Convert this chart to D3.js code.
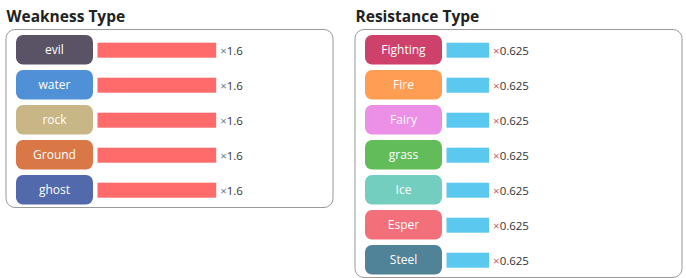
<!DOCTYPE html>
<html><head><meta charset="utf-8">
<script src="https://cdn.jsdelivr.net/npm/d3@7"></script>
<style>body{margin:0;background:#fff;}svg{display:block;font-family:"Open Sans","Noto Sans",sans-serif;}</style>
</head><body><svg id="c" width="686" height="278"></svg>
<script>
const weakTypes = ["evil","water","rock","Ground","ghost"];
const weakValues = [1.6,1.6,1.6,1.6,1.6];
const weakColors = ["#5a5366","#5090d6","#c8b686","#d97746","#5269ac"];
const resTypes = ["Fighting","Fire","Fairy","grass","Ice","Esper","Steel"];
const resValues = [0.625,0.625,0.625,0.625,0.625,0.625,0.625];
const resColors = ["#ce416b","#ff9d55","#ec8fe6","#63bc5a","#73cec0","#f3707a","#508298"];

const svg = d3.select("#c");
const x = d3.scaleLinear().domain([0.08, 1.6]).range([0, 118.7]);

function panel(ox, title, types, values, colors, barColor, xColor) {
  const g = svg.append("g").attr("transform", `translate(${ox},0)`);
  g.append("text").attr("x", 1).attr("y", 22).attr("font-size", 15.5).attr("font-weight", 700)
    .attr("fill", "#222").text(title);
  const y = d3.scaleBand().domain(types).range([35, 35 + 35 * types.length]);
  const h = 35 * types.length + 4;
  g.append("rect").attr("x", 0.5).attr("y", 29.5).attr("width", 327).attr("height", h - 1)
    .attr("rx", 9).attr("fill", "none").attr("stroke", "#999").attr("stroke-width", 1);
  const row = g.selectAll("g.row").data(types).join("g").attr("class", "row")
    .attr("transform", d => `translate(0,${y(d)})`);
  row.append("rect").attr("x", 10.5).attr("y", 0).attr("width", 77).attr("height", 29.5).attr("rx", 7)
    .attr("fill", (d, i) => colors[i]);
  row.append("text").attr("x", 49).attr("y", 15).attr("dy", "0.35em").attr("text-anchor", "middle")
    .attr("font-size", 12).attr("fill", "#fff").text(d => d);
  row.append("rect").attr("x", 92).attr("y", 7.7).attr("width", (d, i) => x(values[i])).attr("height", 15)
    .attr("fill", barColor);
  const t = row.append("text").attr("x", (d, i) => 92 + x(values[i]) + 4).attr("y", 20).attr("font-size", 11.5);
  t.append("tspan").attr("fill", xColor).text("×");
  t.append("tspan").attr("fill", "#333").text((d, i) => values[i]);
}
panel(5.5, "Weakness Type", weakTypes, weakValues, weakColors, "#ff6b6b", "#6a7b90");
panel(354.5, "Resistance Type", resTypes, resValues, resColors, "#5bc8ef", "#c86060");
</script></body></html>
